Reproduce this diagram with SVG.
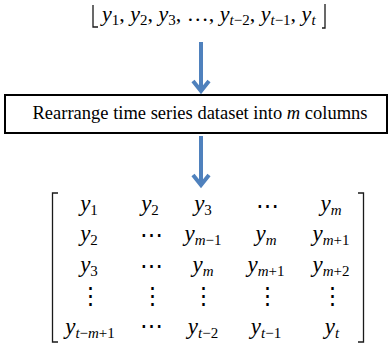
<svg xmlns="http://www.w3.org/2000/svg" width="392" height="345" viewBox="0 0 392 345">
<style>
text{font-family:"Liberation Serif","DejaVu Serif",serif;fill:#000}
.m{font-size:23px;text-anchor:middle}
.v{font-style:italic}
.s{font-size:15px}
.si{font-size:15px;font-style:italic}
.br{fill:none;stroke:#1a1a1a;stroke-width:1.3}
.ar{fill:none;stroke:#4f81bd;stroke-width:4}
</style>
<g id="sequence">
<path class="br" d="M98,27 H93 V5"/>
<path class="br" d="M322,28 H325 V4"/>
<text x="102" y="21" font-size="22"><tspan class="v">y</tspan><tspan class="s" dy="4">1</tspan><tspan dy="-4">, </tspan><tspan class="v">y</tspan><tspan class="s" dy="4">2</tspan><tspan dy="-4">, </tspan><tspan class="v">y</tspan><tspan class="s" dy="4">3</tspan><tspan dy="-4">, …, </tspan><tspan class="v">y</tspan><tspan class="si" dy="4">t</tspan><tspan class="s">−2</tspan><tspan dy="-4">, </tspan><tspan class="v">y</tspan><tspan class="si" dy="4">t</tspan><tspan class="s">−1</tspan><tspan dy="-4">, </tspan><tspan class="v">y</tspan><tspan class="si" dy="4">t</tspan></text>
</g>
<g id="process">
<rect x="5" y="95" width="382" height="38" fill="#fff" stroke="#000" stroke-width="2"/>
<text x="200" y="119" font-size="18.5" text-anchor="middle">Rearrange time series dataset into <tspan font-style="italic">m</tspan> columns</text>
</g>
<g id="matrix">
<path class="br" d="M58,193 H52.5 V342 H58"/>
<path class="br" d="M358,193 H363.5 V342 H358"/>
<g class="m">
<text class="m" x="89" y="211"><tspan class="v">y</tspan><tspan class="s" dy="4">1</tspan></text>
<text class="m" x="150" y="211"><tspan class="v">y</tspan><tspan class="s" dy="4">2</tspan></text>
<text class="m" x="203" y="211"><tspan class="v">y</tspan><tspan class="s" dy="4">3</tspan></text>
<text class="m" x="267" y="213">⋯</text>
<text class="m" x="331" y="211"><tspan class="v">y</tspan><tspan class="si" dy="4">m</tspan></text>

<text class="m" x="89" y="241"><tspan class="v">y</tspan><tspan class="s" dy="4">2</tspan></text>
<text class="m" x="151" y="242">⋯</text>
<text class="m" x="203" y="241"><tspan class="v">y</tspan><tspan class="si" dy="4">m</tspan><tspan class="s">−1</tspan></text>
<text class="m" x="266" y="241"><tspan class="v">y</tspan><tspan class="si" dy="4">m</tspan></text>
<text class="m" x="331" y="241"><tspan class="v">y</tspan><tspan class="si" dy="4">m</tspan><tspan class="s">+1</tspan></text>

<text class="m" x="89" y="272"><tspan class="v">y</tspan><tspan class="s" dy="4">3</tspan></text>
<text class="m" x="151" y="273">⋯</text>
<text class="m" x="203" y="272"><tspan class="v">y</tspan><tspan class="si" dy="4">m</tspan></text>
<text class="m" x="266" y="272"><tspan class="v">y</tspan><tspan class="si" dy="4">m</tspan><tspan class="s">+1</tspan></text>
<text class="m" x="331" y="272"><tspan class="v">y</tspan><tspan class="si" dy="4">m</tspan><tspan class="s">+2</tspan></text>

<text class="m" x="90" y="303">⋮</text>
<text class="m" x="152" y="303">⋮</text>
<text class="m" x="203" y="303">⋮</text>
<text class="m" x="267" y="303">⋮</text>
<text class="m" x="332" y="303">⋮</text>

<text class="m" x="90" y="334"><tspan class="v">y</tspan><tspan class="si" dy="4">t</tspan><tspan class="s">−</tspan><tspan class="si">m</tspan><tspan class="s">+1</tspan></text>
<text class="m" x="151" y="333">⋯</text>
<text class="m" x="203" y="334"><tspan class="v">y</tspan><tspan class="si" dy="4">t</tspan><tspan class="s">−2</tspan></text>
<text class="m" x="266" y="334"><tspan class="v">y</tspan><tspan class="si" dy="4">t</tspan><tspan class="s">−1</tspan></text>
<text class="m" x="332" y="334"><tspan class="v">y</tspan><tspan class="si" dy="4">t</tspan></text>
</g>
</g>
<g id="connectors">
<path class="ar" d="M201,42 V91"/>
<path class="ar" d="M193,81 L201,91 L209,81"/>
<path class="ar" d="M201,136 V185"/>
<path class="ar" d="M193,175 L201,185 L209,175"/>
</g>
</svg>
